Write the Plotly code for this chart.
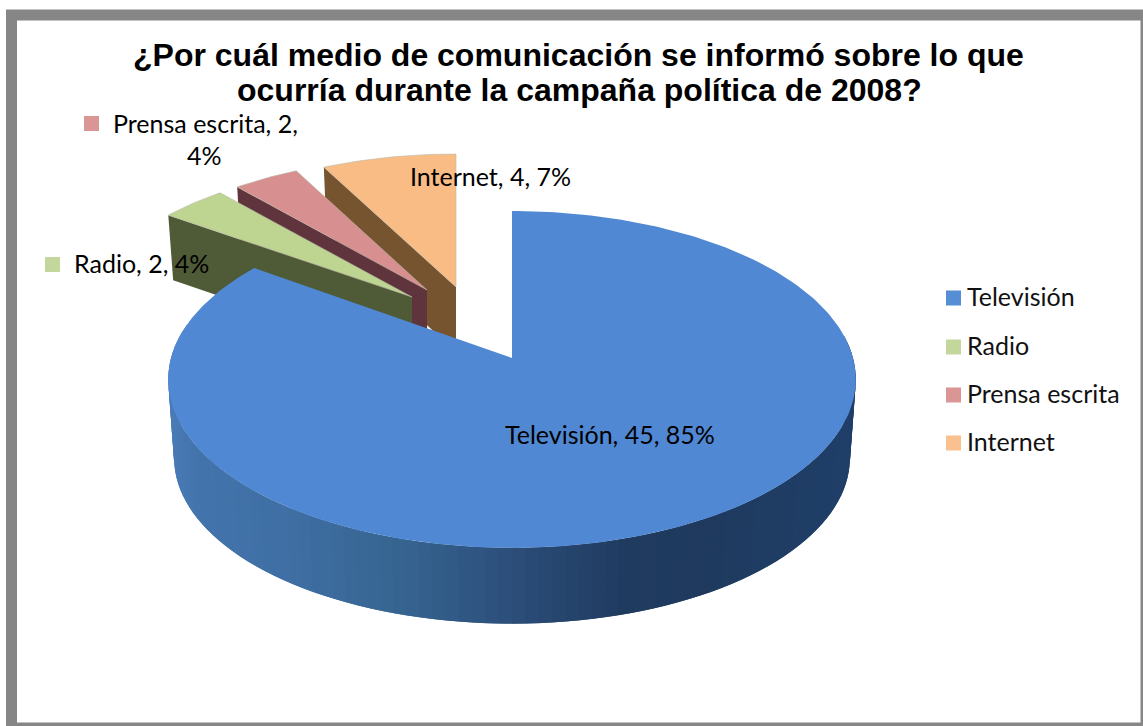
import math
import plotly.graph_objects as go

# ---- data ----
categories = ["Televisión", "Radio", "Prensa escrita", "Internet"]
values = [45, 2, 2, 4]
percents = [85, 4, 4, 7]
title_lines = ["¿Por cuál medio de comunicación se informó sobre lo que",
               "ocurría durante la campaña política de 2008?"]

# ---- styles ----
legend_colors = ["#558ed5", "#c3d69b", "#d99694", "#fac090"]
top_colors = ["#5088d3", "#bdd591", "#d78f8f", "#f9bc84"]
wall_colors = [None, "#4f5a36", "#5f343c", "#75542f"]
WIDTH, HEIGHT = 1143, 726
LABEL_FONT = "Lato, Carlito, Calibri, sans-serif"
LABEL_SIZE = 25
TITLE_FONT = "Liberation Sans, Arial, sans-serif"

# projection of the tilted disc into the drawing
R, S, K = 341.0, 165.7, 0.1275
# per-slice: apex x, apex y, radial scale x, radial scale y, wall depth
slice_geo = {
    0: (512, 358, 1.0, 1.0, 0),
    1: (412, 297, 0.945, 0.91, 65),
    2: (427, 290, 0.935, 0.90, 65),
    3: (456, 287, 0.945, 0.905, 65),
}
# wall of the big slice: lower ring
LOW_Y, LOW_SCALE = 437.0, 0.983
wall_stops = [(168, "#4b7dba"), (200, "#4374ac"), (290, "#3f6fa4"), (400, "#376592"),
              (520, "#2b4d78"), (620, "#213c61"), (700, "#1f3a5e"), (856, "#20406a")]


def hex2rgb(h):
    return tuple(int(h[i:i + 2], 16) for i in (1, 3, 5))


def wall_color(x):
    for (x0, c0), (x1, c1) in zip(wall_stops, wall_stops[1:]):
        if x <= x1:
            t = max(0.0, (x - x0) / (x1 - x0))
            a, b = hex2rgb(c0), hex2rgb(c1)
            return "rgb(%d,%d,%d)" % tuple(a[i] + (b[i] - a[i]) * t for i in range(3))
    return wall_stops[-1][1]


def disc(theta_deg):
    t = math.radians(theta_deg)
    w = 1 + K * math.cos(t)
    return R * math.sin(t) / w, S * math.cos(t) / w


def arc(t0, t1, step=1.0):
    n = max(2, int(abs(t1 - t0) / step) + 1)
    return [t0 + (t1 - t0) * i / (n - 1) for i in range(n)]


def poly(fig, xs, ys, color, line=None, lw=0.0):
    fig.add_trace(go.Scatter(x=xs, y=ys, mode="lines", fill="toself", fillcolor=color,
                             line=dict(color=line or color, width=lw),
                             hoverinfo="skip", showlegend=False))


fig = go.Figure()

total = sum(values)
bounds = [0.0]
for v in values:
    bounds.append(bounds[-1] + 360.0 * v / total)

# small exploded slices, back to front
for i in (3, 2, 1):
    ax, ay, sx, sy, depth = slice_geo[i]
    t0, t1 = bounds[i], bounds[i + 1]
    # radial wall on the leading edge
    dx, dy = disc(t0)
    cx, cy = ax + sx * dx, ay - sy * dy
    poly(fig, [cx, ax, ax, ax + 0.98 * sx * dx, cx],
         [cy, ay, ay + depth, cy + depth, cy], wall_colors[i])
    # top face
    xs, ys = [ax], [ay]
    for t in arc(t0, t1):
        dx, dy = disc(t)
        xs.append(ax + sx * dx)
        ys.append(ay - sy * dy)
    xs.append(ax)
    ys.append(ay)
    poly(fig, xs, ys, top_colors[i], line="#b9b9a8", lw=0.6)

# big slice: curved wall in small overlapping shaded strips, then top face
ax, ay, _, _, _ = slice_geo[0]
ring = arc(82.0, 278.0, 2.0)
for a in ring:
    b = a + 4.0  # each strip reaches under the next one, so no seam shows
    ax0, ay0 = disc(a)
    ax1, ay1 = disc(b)
    qx = [ax + ax0, ax + ax1, ax + LOW_SCALE * ax1, ax + LOW_SCALE * ax0, ax + ax0]
    qy = [ay - ay0, ay - ay1, LOW_Y - LOW_SCALE * ay1, LOW_Y - LOW_SCALE * ay0, ay - ay0]
    am = a + 1.0
    mx, _my = disc(am)
    poly(fig, qx, qy, wall_color(ax + LOW_SCALE * mx))

# strips are painted right to left above; the last one covers the seam side
xs, ys = [ax], [ay]
for t in arc(bounds[0], bounds[1]):
    dx, dy = disc(t)
    xs.append(ax + dx)
    ys.append(ay - dy)
xs.append(ax)
ys.append(ay)
poly(fig, xs, ys, top_colors[0])

# legend swatches and texts
legend_y = [298, 347, 395, 443]
fig.add_trace(go.Scatter(x=[953.5] * 4, y=legend_y, mode="markers",
                         marker=dict(symbol="square", size=15, color=legend_colors, line=dict(width=0)),
                         hoverinfo="skip", showlegend=False))
fig.add_trace(go.Scatter(x=[967] * 4, y=[v + 2 for v in legend_y], mode="text", text=categories,
                         textposition="middle right",
                         textfont=dict(family=LABEL_FONT, size=LABEL_SIZE, color="#111111"),
                         hoverinfo="skip", showlegend=False))

# keys next to outside data labels
fig.add_trace(go.Scatter(x=[52.5, 91.5], y=[264.5, 123.5], mode="markers",
                         marker=dict(symbol="square", size=15, color=[legend_colors[1], legend_colors[2]],
                                     line=dict(width=0)),
                         hoverinfo="skip", showlegend=False))


def lab(i):
    return f"{categories[i]}, {values[i]}, {percents[i]}%"


annots = [
    dict(x=610, y=434, text=lab(0), xanchor="center"),
    dict(x=72, y=263, text=lab(1), xanchor="left"),
    dict(x=111, y=123, text=f"{categories[2]}, {values[2]},", xanchor="left"),
    dict(x=204, y=155, text=f"{percents[2]}%", xanchor="center"),
    dict(x=490, y=176, text=lab(3), xanchor="center"),
]
annotations = [dict(a, xref="x", yref="y", yanchor="middle", showarrow=False,
                    font=dict(family=LABEL_FONT, size=LABEL_SIZE, color="#000000")) for a in annots]
for txt, yy, xx in zip(title_lines, [55, 90], [578, 579]):
    annotations.append(dict(x=xx, y=yy, text=txt, xref="x", yref="y", xanchor="center", yanchor="middle",
                            showarrow=False,
                            font=dict(family=TITLE_FONT, size=32, color="#000000", weight="bold")))

fig.update_layout(
    width=WIDTH, height=HEIGHT, autosize=False,
    margin=dict(l=0, r=0, t=0, b=0, pad=0),
    paper_bgcolor="white", plot_bgcolor="white",
    showlegend=False,
    xaxis=dict(range=[0, WIDTH], visible=False, fixedrange=True),
    yaxis=dict(range=[HEIGHT, 0], visible=False, fixedrange=True),
    shapes=[dict(type="rect", xref="x", yref="y", x0=11.5, y0=15, x1=1146, y1=728,
                 line=dict(color="#868686", width=11), fillcolor="rgba(0,0,0,0)", layer="above")],
    annotations=annotations,
)

fig.write_html("out.html", config={"displayModeBar": False, "responsive": False},
               post_script="document.body.style.margin='0';document.documentElement.style.overflow='hidden';")
